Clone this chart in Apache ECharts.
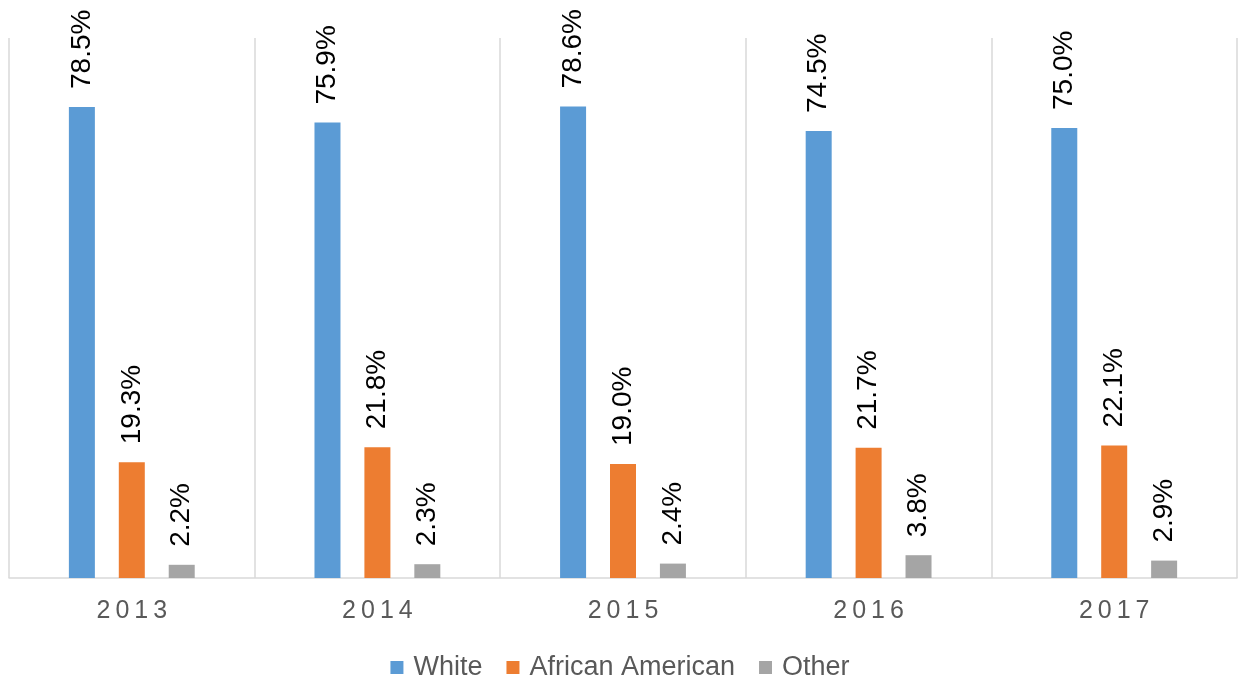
<!DOCTYPE html>
<html>
<head>
<meta charset="utf-8">
<script src="https://cdn.jsdelivr.net/npm/echarts@6/dist/echarts.min.js"></script>
<style>
    html, body { margin: 0; padding: 0; background: #fff; }
    #chart { width: 1240px; height: 684px; }
</style>
</head>
<body>
<div id="chart"></div>
<script>
// 数据
const years = ['2013', '2014', '2015', '2016', '2017'];
const seriesNames = ['White', 'African American', 'Other'];
const whiteValues = [78.5, 75.9, 78.6, 74.5, 75.0];
const africanAmericanValues = [19.3, 21.8, 19.0, 21.7, 22.1];
const otherValues = [2.2, 2.3, 2.4, 3.8, 2.9];
const colors = ['#5B9BD5', '#ED7D31', '#A5A5A5'];

const fontFamily = 'Arial, "Liberation Sans", sans-serif';

// 柱子上方的竖排标签
const barLabel = {
    show: true,
    position: 'top',
    rotate: 90,
    align: 'left',
    verticalAlign: 'middle',
    distance: 18,
    color: '#000',
    fontSize: 28,
    fontFamily: fontFamily,
    formatter: p => p.value.toFixed(1) + '%'
};

function makeSeries(name, data, color) {
    return {
        name: name,
        type: 'bar',
        data: data,
        barWidth: 26,
        barGap: '92%',
        itemStyle: {color: color},
        label: barLabel
    };
}

const option = {
    animation: false,
    grid: {left: 9, right: 3, top: 38, bottom: 106},
    legend: {
        bottom: 3,
        padding: 0,
        left: 'center',
        icon: 'rect',
        itemWidth: 13,
        itemHeight: 13,
        itemGap: 24,
        textStyle: {
            color: '#595959',
            fontSize: 27,
            fontFamily: fontFamily,
            padding: [0, 0, 0, 5]
        },
        data: seriesNames
    },
    xAxis: {
        type: 'category',
        data: years,
        axisLine: {lineStyle: {color: '#d9d9d9', width: 1.5}},
        axisTick: {show: false},
        splitLine: {show: true, lineStyle: {color: '#d9d9d9', width: 1.5}},
        axisLabel: {
            color: '#595959',
            fontSize: 25,
            fontFamily: fontFamily,
            margin: 21,
            // 模拟字间距
            formatter: v => v.split('').join('\u2009')
        }
    },
    yAxis: {
        type: 'value',
        min: 0,
        max: 90,
        show: false,
        splitLine: {show: false}
    },
    series: [
        makeSeries(seriesNames[0], whiteValues, colors[0]),
        makeSeries(seriesNames[1], africanAmericanValues, colors[1]),
        makeSeries(seriesNames[2], otherValues, colors[2])
    ]
};

const chart = echarts.init(document.getElementById('chart'));
chart.setOption(option);
</script>
</body>
</html>
